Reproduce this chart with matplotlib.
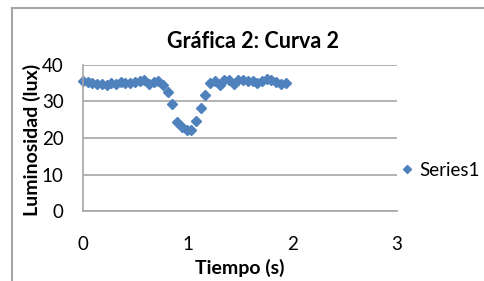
import matplotlib
matplotlib.use('Agg')
import matplotlib.pyplot as plt
from matplotlib.lines import Line2D

plt.rcParams['font.family'] = ['Lato', 'DejaVu Sans']

# Tiempo (s) y luminosidad (lux)
tiempo = [0.00, 0.045, 0.09, 0.135, 0.18, 0.225, 0.27, 0.315, 0.36, 0.405,
          0.45, 0.495, 0.54, 0.585, 0.63, 0.675, 0.72, 0.765, 0.81, 0.855,
          0.90, 0.945, 0.99, 1.035, 1.08, 1.125, 1.17, 1.215, 1.26, 1.305,
          1.35, 1.395, 1.44, 1.485, 1.53, 1.575, 1.62, 1.665, 1.71, 1.755,
          1.80, 1.845, 1.89, 1.935]
luminosidad = [35.7, 35.4, 35.1, 34.9, 34.7, 34.5, 35.1, 34.9, 35.3, 35.1,
               35.0, 35.4, 35.7, 35.9, 34.8, 35.4, 35.5, 34.4, 32.6, 29.3,
               24.3, 22.9, 22.1, 22.1, 24.6, 28.2, 31.8, 35.1, 35.6, 34.4,
               35.8, 35.9, 34.9, 35.8, 35.9, 35.6, 35.5, 35.0, 35.6, 36.1,
               35.9, 35.4, 34.9, 35.1]
xticks = [0, 1, 2, 3]
yticks = [0, 10, 20, 30, 40]

W, H = 485, 281
fig = plt.figure(figsize=(W / 100, H / 100), dpi=100)

# marco exterior del grafico
fig.add_artist(Line2D([12 / W, 12 / W], [0, 1 - 8 / H], color='#A6A6A6', lw=1.5))
fig.add_artist(Line2D([12 / W, 1], [1 - 8 / H, 1 - 8 / H], color='#A6A6A6', lw=1.5))

ax = fig.add_axes([83 / W, 1 - 211 / H, (397 - 83) / W, (211 - 65) / H])
ax.plot(tiempo, luminosidad, linestyle='none', marker='D', markersize=5,
        color='#4F81BD', label='Series1', clip_on=False)

ax.set_xlim(0, 3)
ax.set_ylim(0, 40)
ax.set_xticks(xticks)
ax.set_yticks(yticks)
ax.tick_params(length=0, labelsize=13.5, colors='#000000')
ax.tick_params(axis='x', pad=18)
ax.tick_params(axis='y', pad=14)
ax.yaxis.grid(True, color='#A6A6A6', lw=1.2)
ax.set_axisbelow(True)
for s in ['top', 'right']:
    ax.spines[s].set_visible(False)
for s in ['left', 'bottom']:
    ax.spines[s].set_color('#A6A6A6')
    ax.spines[s].set_linewidth(1.2)

ax.set_xlabel('Tiempo (s)', fontsize=14, fontweight='bold')
ax.set_ylabel('Luminosidad (lux)', fontsize=14, fontweight='bold')
ax.xaxis.set_label_coords(0.5, (211 - 268) / 146)
ax.yaxis.set_label_coords((32 - 83) / 314, 0.49)
ax.xaxis.label.set_va('center')
ax.yaxis.label.set_va('center')
fig.text(253 / W, 1 - 42 / H, 'Gráfica 2: Curva 2', ha='center', va='center',
         fontsize=15.5, fontweight='bold')

ax.legend(loc='center left', bbox_to_anchor=(392 / W, 1 - 170 / H),
          bbox_transform=fig.transFigure, frameon=False, fontsize=13.5,
          handlelength=0.8, handletextpad=0.25, borderaxespad=0,
          markerscale=0.8)

fig.savefig('out.png', dpi=100)
